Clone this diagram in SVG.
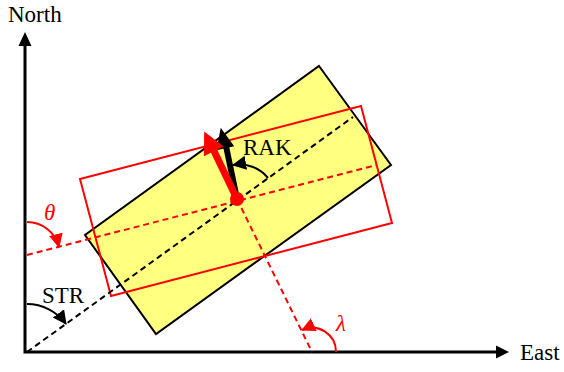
<svg xmlns="http://www.w3.org/2000/svg" width="564" height="372" viewBox="0 0 564 372">
<style>
.ax{stroke:#000;stroke-width:3;fill:none}
.ry{fill:#FFFF80;stroke:#000;stroke-width:2}
.rr{fill:none;stroke:#F00;stroke-width:2}
.dk{stroke:#000;stroke-width:2;stroke-dasharray:6 4;fill:none}
.dr{stroke:#F00;stroke-width:2;stroke-dasharray:6 4;fill:none}
.ab{stroke:#000;stroke-width:2;fill:none;marker-end:url(#hb)}
.ar{stroke:#F00;stroke-width:2;fill:none;marker-end:url(#hr)}
text{font-family:"Liberation Serif","Times New Roman",serif;font-size:23px;fill:#000}
.it{font-style:italic;fill:#F00}
</style>
<defs>
<marker id="hb" markerUnits="userSpaceOnUse" markerWidth="15" markerHeight="15" refX="13" refY="7" orient="auto"><path d="M0,0 L14,7 L0,14 z" fill="#000"/></marker>
<marker id="hr" markerUnits="userSpaceOnUse" markerWidth="15" markerHeight="15" refX="13" refY="7" orient="auto"><path d="M0,0 L14,7 L0,14 z" fill="#F00"/></marker>
</defs>
<g id="axes">
<path class="ax" d="M25,46 L25,352 L497,352"/>
<path d="M18.5,46 L25,32 L31.5,46 z" fill="#000"/>
<path d="M496,345.5 L509,352 L496,358.5 z" fill="#000"/>
</g>
<g id="fault-plane">
<polygon class="ry" points="319,66 391,165 156,334 85,235"/>
</g>
<g id="projected-plane">
<polygon class="rr" points="80,179 361,106 392,223 111,296"/>
</g>
<g id="connectors">
<line class="dk" x1="27" y1="352" x2="353" y2="117"/>
<line class="dr" x1="27" y1="255" x2="377" y2="165"/>
<line class="dr" x1="237" y1="199" x2="312" y2="352"/>
<path class="ar" d="M27,222 A33,33 0 0 1 59,247"/>
<path class="ab" d="M27,304 A48,48 0 0 1 66,324"/>
<path class="ar" d="M336,352 A24,24 0 0 0 302,330"/>
<path class="ab" d="M268,178 A37,37 0 0 0 233,165"/>
</g>
<g id="slip-black">
<line x1="237" y1="199" x2="226" y2="146" stroke="#000" stroke-width="6"/>
<polygon points="220.7,127.8 234.2,146.3 216.6,150.3" fill="#000"/>
</g>
<g id="slip-red">
<line x1="237" y1="199" x2="214" y2="151" stroke="#F00" stroke-width="7"/>
<polygon points="204.2,131.6 223.7,146.6 203.9,156.2" fill="#F00"/>
<circle cx="237" cy="199" r="7" fill="#F00"/>
</g>
<g id="labels">
<text x="8" y="22">North</text>
<text x="520" y="360">East</text>
<text x="243" y="155">RAK</text>
<text x="42" y="303">STR</text>
<text class="it" x="44" y="220">θ</text>
<text class="it" x="336" y="331">λ</text>
</g>
</svg>
